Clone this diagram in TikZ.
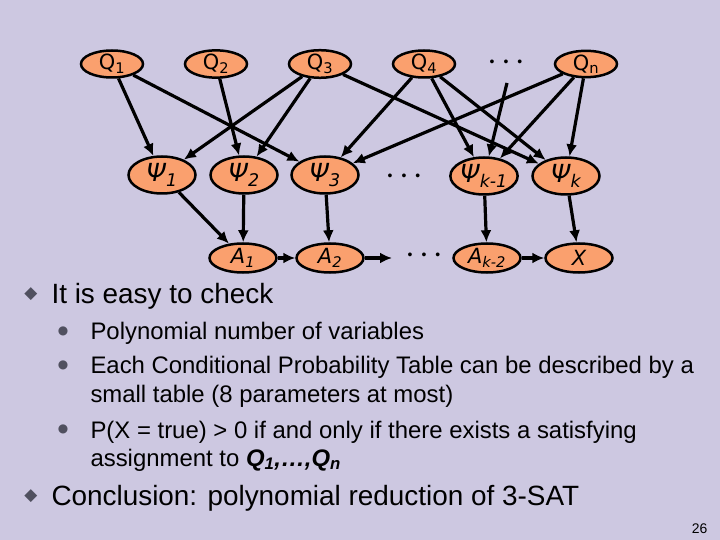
\documentclass[tikz,border=0pt]{standalone}
\usepackage{fontspec}
\setmainfont{Liberation Sans}
\newfontfamily\symfont{DejaVu Sans}
\usetikzlibrary{arrows.meta, positioning, shapes.geometric}

\definecolor{slidebg}{RGB}{205,200,225}
\definecolor{nodefill}{RGB}{250,160,110}
\definecolor{bulletgrey}{RGB}{80,80,95}

\newcommand{\threedots}{•\hspace{9bp}•\hspace{9bp}•}

\begin{document}
\begin{tikzpicture}[
  x=1bp, y=-1bp,
  qvar/.style={ellipse, draw, line width=2.5bp, fill=nodefill, inner sep=0pt,
    minimum width=62bp, minimum height=23bp, font=\symfont\fontsize{21}{21}\selectfont},
  psi/.style={ellipse, draw, line width=2.5bp, fill=nodefill, inner sep=0pt,
    minimum width=67bp, minimum height=37bp, font=\symfont\fontsize{25}{25}\selectfont\itshape},
  aux/.style={ellipse, draw, line width=2.5bp, fill=nodefill, inner sep=0pt,
    minimum width=67bp, minimum height=29bp, font=\symfont\fontsize{21}{21}\selectfont\itshape},
  dots/.style={inner sep=0pt, font=\fontsize{14}{14}\selectfont},
  edge/.style={-{Latex[length=12bp, width=11bp]}, line width=3.2bp},
  head/.style={anchor=base west, font=\fontsize{28}{33}\selectfont},
  item/.style={anchor=base west, font=\fontsize{24}{29}\selectfont},
  mark1/.style={text=bulletgrey, inner sep=0pt, font=\symfont\fontsize{17}{17}\selectfont},
  mark2/.style={text=bulletgrey, inner sep=0pt, font=\symfont\fontsize{12}{12}\selectfont}
]
\fill[slidebg] (0,0) rectangle (720,540);
\useasboundingbox (0,0) rectangle (720,540);

% top row
\node[qvar] (q1) at (112,64) {Q\textsubscript{1}};
\node[qvar] (q2) at (216,64) {Q\textsubscript{2}};
\node[qvar] (q3) at (320,64) {Q\textsubscript{3}};
\node[qvar] (q4) at (424,64) {Q\textsubscript{4}};
\node[dots] (qdots) at (506,63) {\threedots};
\node[qvar] (qn) at (586,64) {Q\textsubscript{n}};
\coordinate (qfree) at (507,83);

% clauses
\node[psi] (p1) at (162,175) {Ψ\textsubscript{1}};
\node[psi] (p2) at (244,175) {Ψ\textsubscript{2}};
\node[psi] (p3) at (325,175) {Ψ\textsubscript{3}};
\node[dots] (pdots) at (404,177) {\threedots};
\node[psi] (pk1) at (484,176) {Ψ\textsubscript{k-1}};
\node[psi] (pk) at (566,176) {Ψ\textsubscript{k}};

% chain
\node[aux] (a1) at (243,258) {A\textsubscript{1}};
\node[aux] (a2) at (330,258) {A\textsubscript{2}};
\node[dots] (adots) at (424,256) {\threedots};
\node[aux] (ak2) at (487,258) {A\textsubscript{k-2}};
\node[aux] (x) at (579,258) {X};
\coordinate (a2end) at (392,258);

\draw[edge] (q1) -- (p1);
\draw[edge] (q1) -- (p3);
\draw[edge] (q2) -- (p2);
\draw[edge] (q3) -- (p1);
\draw[edge] (q3) -- (p2);
\draw[edge] (q3) -- (pk);
\draw[edge] (q4) -- (p3);
\draw[edge] (q4) -- (pk1);
\draw[edge] (q4) -- (pk);
\draw[edge] (qfree) -- (pk1);
\draw[edge] (qn) -- (p3);
\draw[edge] (qn) -- (pk1);
\draw[edge] (qn) -- (pk);

\draw[edge] (p1) -- (a1);
\draw[edge] (p2) -- (a1);
\draw[edge] (p3) -- (a2);
\draw[edge] (pk1) -- (ak2);
\draw[edge] (pk) -- (x);
\draw[edge] (a1) -- (a2);
\draw[edge] (a2) -- (a2end);
\draw[edge] (ak2) -- (x);

% text
\node[mark1] (m1) at (31,294) {◆};
\node[head] (t1) at (48,303) {It is easy to check};
\node[mark2] (m2) at (63,331) {●};
\node[item] (t2) at (87,339) {Polynomial number of variables};
\node[mark2] (m3) at (63,365) {●};
\node[item] (t3) at (87,373) {Each Conditional Probability Table can be described by a};
\node[item] (t4) at (87,402) {small table (8 parameters at most)};
\node[mark2] (m4) at (63,429) {●};
\node[item] (t5) at (87,438) {P(X = true) > 0 if and only if there exists a satisfying};
\node[item] (t6) at (87,466) {assignment to \textbf{\itshape Q\textsubscript{1},…,Q\textsubscript{n}}};
\node[mark1] (m5) at (31,496) {◆};
\node[head] (t7) at (48,505) {Conclusion: polynomial reduction of 3-SAT};
\node[anchor=base east, font=\fontsize{14}{14}\selectfont] (pg) at (711,533) {26};
\end{tikzpicture}
\end{document}
